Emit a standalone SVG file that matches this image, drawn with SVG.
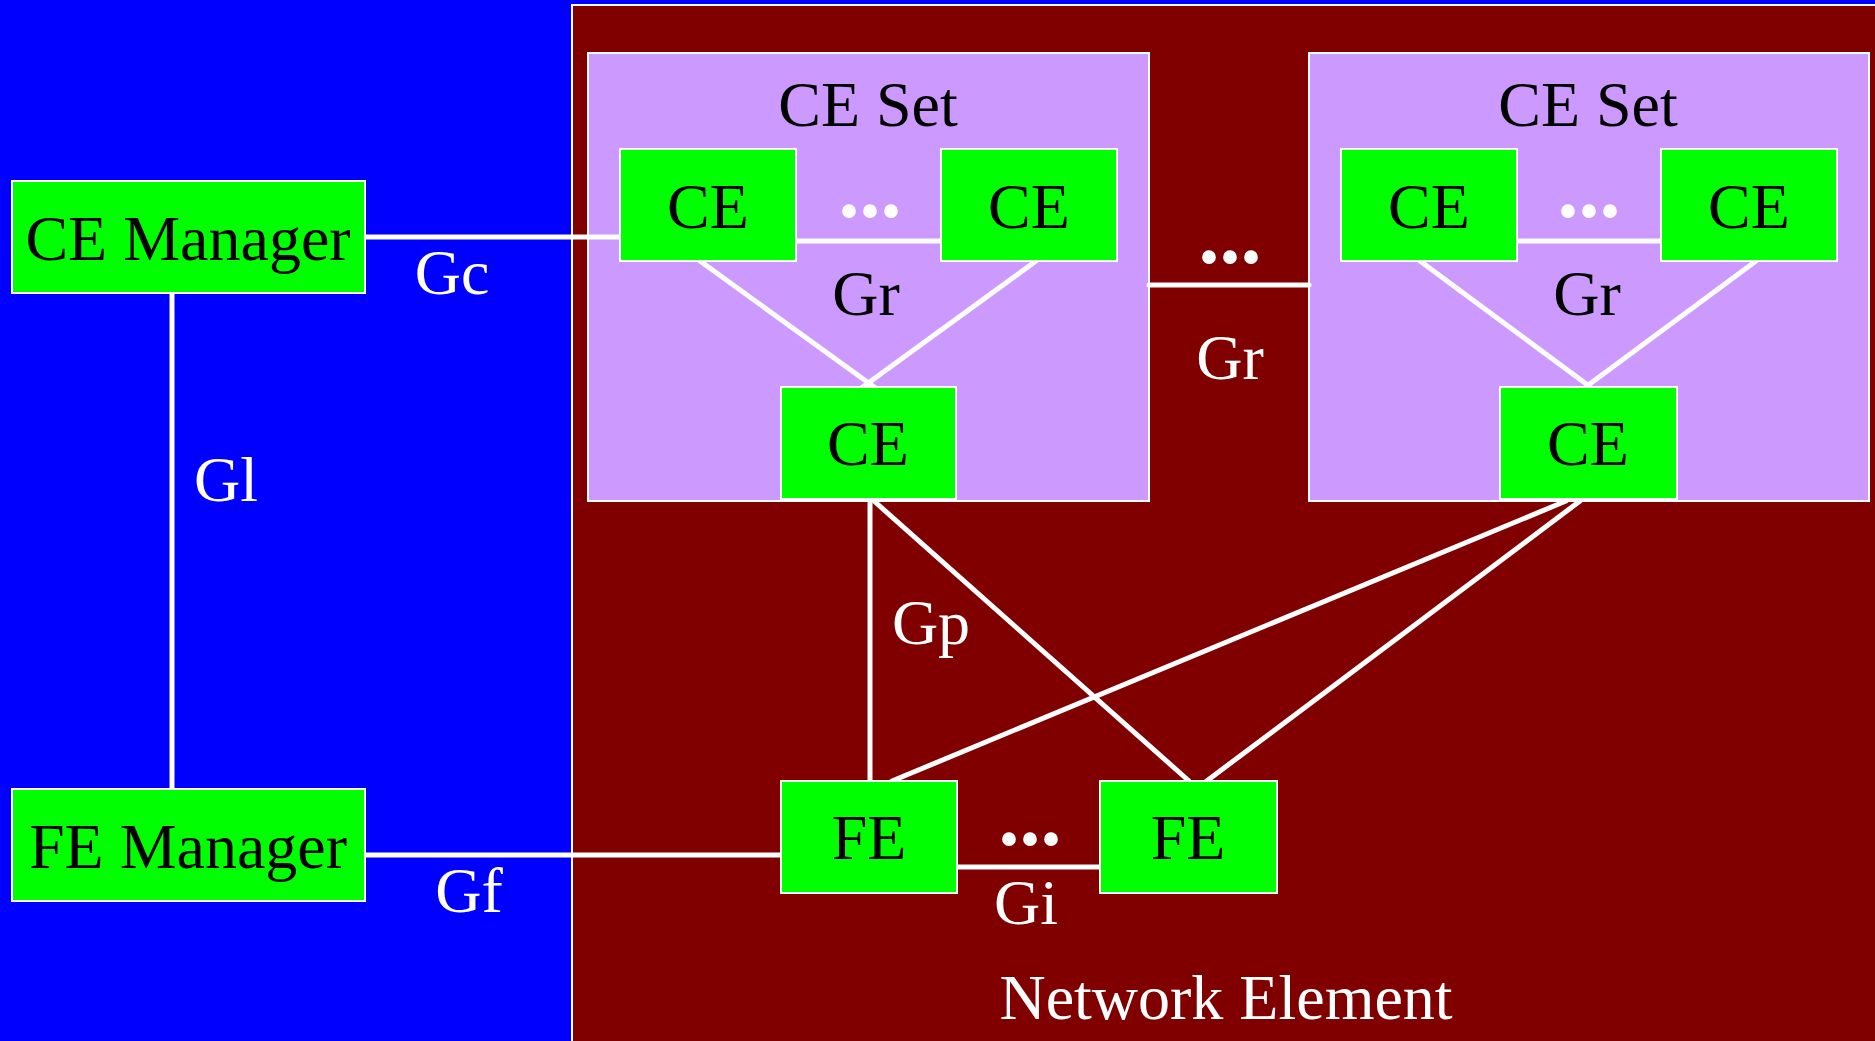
<svg xmlns="http://www.w3.org/2000/svg" width="1875" height="1041" viewBox="0 0 1875 1041">
  <defs>
    <style>
      .node { fill: #00ff00; stroke: #ffffff; stroke-width: 2; }
      .set { fill: #cc99ff; stroke: #ffffff; stroke-width: 2; }
      .lbl { font-family: "Liberation Serif", "Times New Roman", serif; font-size: 64px; text-anchor: middle; }
      .dark { fill: #000000; }
      .light { fill: #ffffff; }
      .dots { font-family: "Liberation Serif", "Times New Roman", serif; font-size: 84px; font-weight: bold; text-anchor: middle; fill: #ffffff; }
      .link { stroke: #ffffff; stroke-width: 5; stroke-linecap: round; fill: none; }
    </style>
  </defs>

  <!-- management plane background -->
  <rect x="0" y="0" width="1875" height="1041" fill="#0000ff"/>

  <!-- network element area -->
  <g id="network-element">
    <rect x="572" y="5" width="1310" height="1045" fill="#800000" stroke="#ffffff" stroke-width="2"/>
    <text class="lbl light" x="1226" y="1019">Network Element</text>
  </g>

  <!-- CE sets -->
  <g id="ce-set-1">
    <rect class="set" x="588" y="53" width="561" height="448"/>
    <text class="lbl dark" x="868" y="126">CE Set</text>
  </g>
  <g id="ce-set-2">
    <rect class="set" x="1309" y="53" width="560" height="448"/>
    <text class="lbl dark" x="1588" y="126">CE Set</text>
  </g>

  <!-- connectors -->
  <g id="connectors">
    <!-- Gc -->
    <line class="link" x1="365" y1="237" x2="621" y2="237"/>
    <!-- Gl -->
    <line class="link" x1="172" y1="293" x2="172" y2="789"/>
    <!-- Gf -->
    <line class="link" x1="365" y1="855" x2="781" y2="855"/>
    <!-- Gr inside set 1 -->
    <line class="link" x1="796" y1="241" x2="941" y2="241"/>
    <line class="link" x1="700" y1="261" x2="877" y2="389"/>
    <line class="link" x1="1036" y1="261" x2="860" y2="389"/>
    <!-- Gr inside set 2 -->
    <line class="link" x1="1517" y1="241" x2="1661" y2="241"/>
    <line class="link" x1="1420" y1="261" x2="1589" y2="386"/>
    <line class="link" x1="1756" y1="261" x2="1587" y2="386"/>
    <!-- Gr between sets -->
    <line class="link" x1="1149" y1="285" x2="1309" y2="285"/>
    <!-- Gp -->
    <line class="link" x1="870" y1="501" x2="870" y2="781"/>
    <line class="link" x1="874" y1="501" x2="1189" y2="781"/>
    <line class="link" x1="1566" y1="501" x2="892" y2="781"/>
    <line class="link" x1="1580" y1="501" x2="1196" y2="789"/>
    <!-- Gi -->
    <line class="link" x1="957" y1="867" x2="1100" y2="867"/>
  </g>

  <!-- managers -->
  <g id="ce-manager">
    <rect class="node" x="12" y="181" width="353" height="112"/>
    <text class="lbl dark" x="188" y="260">CE Manager</text>
  </g>
  <g id="fe-manager">
    <rect class="node" x="12" y="789" width="353" height="112"/>
    <text class="lbl dark" x="188" y="868">FE Manager</text>
  </g>

  <!-- control elements, set 1 -->
  <g id="ce-1a">
    <rect class="node" x="620" y="149" width="176" height="112"/>
    <text class="lbl dark" x="708" y="228">CE</text>
  </g>
  <g id="ce-1b">
    <rect class="node" x="941" y="149" width="176" height="112"/>
    <text class="lbl dark" x="1029" y="228">CE</text>
  </g>
  <g id="ce-1c">
    <rect class="node" x="781" y="387" width="175" height="112"/>
    <text class="lbl dark" x="868" y="465">CE</text>
  </g>

  <!-- control elements, set 2 -->
  <g id="ce-2a">
    <rect class="node" x="1341" y="149" width="176" height="112"/>
    <text class="lbl dark" x="1429" y="228">CE</text>
  </g>
  <g id="ce-2b">
    <rect class="node" x="1661" y="149" width="176" height="112"/>
    <text class="lbl dark" x="1749" y="228">CE</text>
  </g>
  <g id="ce-2c">
    <rect class="node" x="1500" y="387" width="177" height="112"/>
    <text class="lbl dark" x="1588" y="465">CE</text>
  </g>

  <!-- forwarding elements -->
  <g id="fe-1">
    <rect class="node" x="781" y="781" width="176" height="112"/>
    <text class="lbl dark" x="869" y="859">FE</text>
  </g>
  <g id="fe-2">
    <rect class="node" x="1100" y="781" width="177" height="112"/>
    <text class="lbl dark" x="1188" y="859">FE</text>
  </g>

  <!-- interface labels -->
  <g id="labels">
    <text class="lbl light" x="452" y="294">Gc</text>
    <text class="lbl light" x="226" y="501">Gl</text>
    <text class="lbl light" x="469" y="912">Gf</text>
    <text class="lbl dark" x="866" y="315">Gr</text>
    <text class="lbl dark" x="1587" y="315">Gr</text>
    <text class="lbl light" x="1230" y="379">Gr</text>
    <text class="lbl light" x="931" y="644">Gp</text>
    <text class="lbl light" x="1026" y="924">Gi</text>
    <text class="dots" x="870" y="217">...</text>
    <text class="dots" x="1589" y="217">...</text>
    <text class="dots" x="1230" y="263">...</text>
    <text class="dots" x="1030" y="845">...</text>
  </g>
</svg>
